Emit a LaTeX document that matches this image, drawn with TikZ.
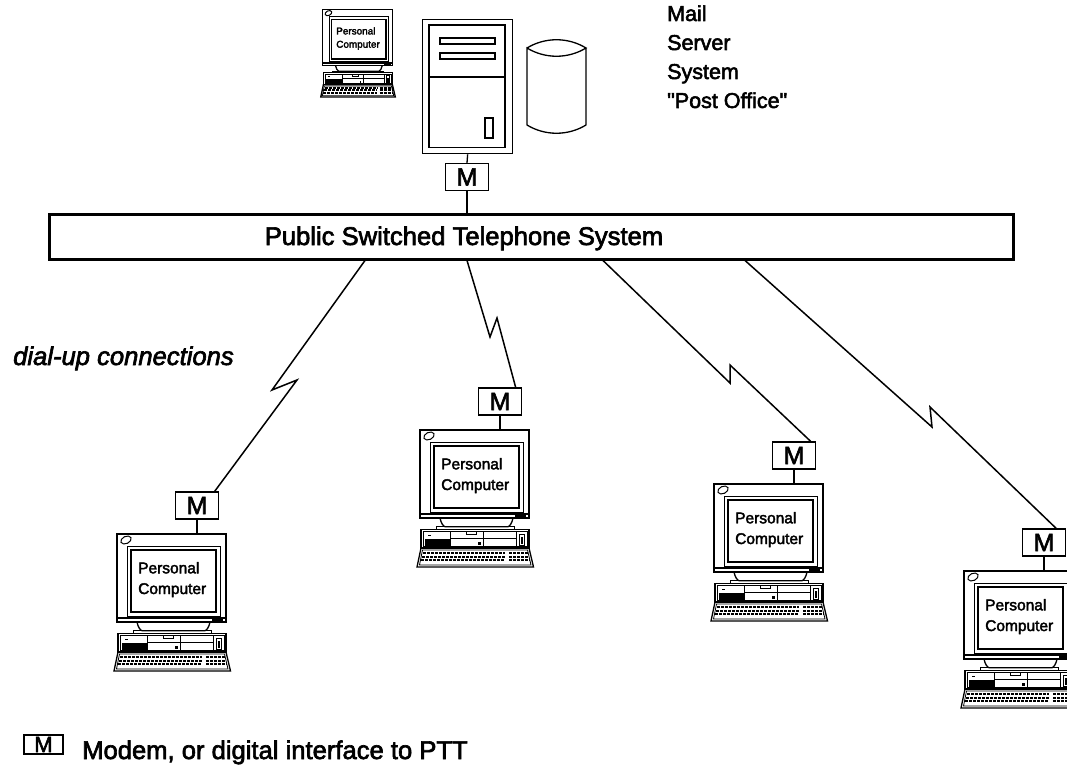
\documentclass[tikz,border=0pt]{standalone}
\usepackage{fontspec}
\setmainfont{Liberation Sans}[Ligatures=TeXOff, RawFeature={embolden=2.5}]
\usetikzlibrary{calc}
\begin{document}
\begin{tikzpicture}[x=1pt,y=-1pt,
  ln/.style={line width=1.3pt},
  thin/.style={line width=0.8pt},
  bolt/.style={line width=1.5pt, line join=miter},
  modem/.style={draw, line width=1.3pt, minimum width=43pt, minimum height=27pt,
    inner sep=0pt, font=\fontsize{25}{25}\selectfont},
  big/.style={font=\fontsize{25.6}{29}\selectfont, inner sep=0pt},
  mailtxt/.style={font=\fontsize{21.5}{29}\selectfont, anchor=base west, inner sep=0pt},
  pclabel/.style={font=\fontsize{15.5}{21}\selectfont, anchor=base west, inner sep=0pt, transform shape},
  keys/.style={line width=2pt, dash pattern=on 3pt off 1pt},
  pcicon/.pic={
    % monitor cabinet
    \draw[ln] (0,0) rectangle (109,88);
    \draw[ln] (0,84) -- (109,84);
    \fill (95,84.5) rectangle (106,86.5);
    \draw[line width=1pt] (9,6) ellipse [x radius=5.5, y radius=3.6, rotate=25];
    % screen
    \draw[line width=1pt] (10,12) rectangle (103,82);
    \draw[line width=1.6pt] (14,16) rectangle (99,78);
    \node[pclabel] (-l1) at (21,39.3) {Personal};
    \node[pclabel] (-l2) at (21,60) {Computer};
    % pedestal
    \draw[ln] (20,88) .. controls (21,93) and (23,96) .. (25,96.7) -- (88,96.7)
      .. controls (90,96) and (92,93) .. (93,88);
    \draw[ln] (16.3,96.7) rectangle (94.7,99.3);
    % system unit
    \draw[ln] (1,99.3) rectangle (109,118);
    \draw[thin] (3.7,101.7) rectangle (107,116);
    \fill (4.7,108.7) rectangle (30.7,116);
    \draw[thin] (8,105.5) -- (11,105.5);
    \draw[thin] (30.7,101.7) -- (30.7,116) (63,101.7) -- (63,116)
      (96,101.7) -- (96,116) (30.7,108.7) -- (96,108.7);
    \draw[thin] (46,101.7) rectangle (56,104.5);
    \fill (58,112) rectangle (60.5,114.5);
    \draw[thin] (99.5,104) rectangle (104.5,115);
    \fill (101,107) rectangle (103,114);
    % keyboard
    \draw[ln] (1,118) -- (109,118) -- (113.5,137) -- (-3,137) -- cycle;
    \draw[thin] (2.5,120) -- (107.5,120) -- (111,135) -- (-0.5,135) -- cycle;
    \draw[keys] (3,123.3) -- (85,123.3) (2,126.8) -- (85,126.8) (1,130.3) -- (85,130.3);
    \draw[keys] (89,123.3) -- (108,123.3) (89,126.8) -- (109,126.8) (89,130.3) -- (110,130.3);
    \coordinate (-top) at (80,0);
  }
]
\clip (0,0) rectangle (1067,767);
\fill[white] (0,0) rectangle (1067,767);

% mail server tower
\node[draw, ln, minimum width=90pt, minimum height=134pt, inner sep=0pt,
  anchor=north west] (server) at (422,19) {};
\draw[ln] (429,25) rectangle (505,147.5);
\draw[ln] (429,77) -- (505,77);
\draw[ln] (440,38) rectangle (495,44);
\draw[ln] (440,53) rectangle (495,59);
\draw[ln] (485,118) rectangle (493,138);

% disk storage
\draw[ln] (527,48) .. controls (545,37) and (568,37) .. (586,48)
  .. controls (568,59) and (545,59) .. (527,48) -- (527,125)
  .. controls (545,136) and (568,136) .. (586,125) -- (586,48);

% console
\pic[scale=0.64] (pc0) at (322.7,9.3) {pcicon};

% server label
\node[mailtxt] (mail1) at (667,21) {Mail};
\node[mailtxt] (mail2) at (667,50) {Server};
\node[mailtxt] (mail3) at (667,79) {System};
\node[mailtxt] (mail4) at (667,108) {"Post Office"};

% telephone network
\node[draw, line width=2.5pt, minimum width=964pt, minimum height=44.7pt, inner sep=0pt,
  anchor=north west] (bar) at (48,213.3) {};
\node[big, anchor=base] (bartext) at (464,245) {Public Switched Telephone System};

\node[modem] (ms) at (467,177) {M};
\draw[ln] (server.south) -- (ms.north);
\draw[ln] (ms.south) -- (ms.south |- bar.north);

% client workstations
\pic (pc1) at (117,534) {pcicon};
\pic (pc2) at (420,430) {pcicon};
\pic (pc3) at (714,484) {pcicon};
\pic (pc4) at (964,571) {pcicon};

\foreach \i in {1,2,3,4}{
  \node[modem] (m\i) at ($(pc\i-top)+(0,-28.5)$) {M};
  \draw[ln] (m\i.south) -- (pc\i-top);
}

% dial-up links
\draw[bolt] ($(bar.south west)+(317,0)$) -- (272,390) -- (297,380) -- ($(m1.north east)+(-4.5,0)$);
\draw[bolt] ($(bar.south west)+(419,0)$) -- (490,337) -- (497,318) -- ($(m2.north east)+(-6.5,0)$);
\draw[bolt] ($(bar.south west)+(555,0)$) -- (730,383) -- (730,365) -- ($(m3.north east)+(-5.5,0)$);
\draw[bolt] ($(bar.south west)+(697,0)$) -- (932,427) -- (930,407) -- ($(m4.north east)+(-10,0)$);

\node[big, anchor=base west] (dialup) at (13,365) {\itshape dial-up connections};

% legend
\node[modem, minimum width=39pt, minimum height=19pt, font=\fontsize{22}{22}\selectfont]
  (mleg) at (43.5,744.5) {M};
\node[big, anchor=base west] (legtext) at (82,759) {Modem, or digital interface to PTT};
\end{tikzpicture}
\end{document}
